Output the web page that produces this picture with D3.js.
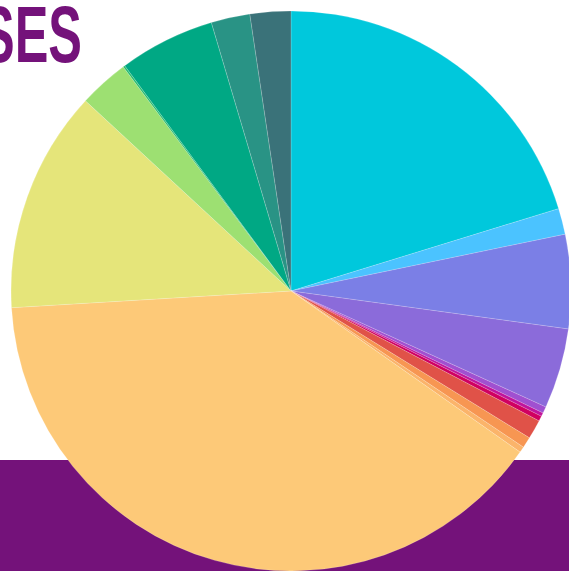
<!DOCTYPE html>
<html>
<head>
<meta charset="utf-8">
<script src="https://cdn.jsdelivr.net/npm/d3@7"></script>
<style>
  html, body { margin: 0; padding: 0; background: #fff; overflow: hidden; }
  svg { display: block; }
</style>
</head>
<body>
<div id="chart"></div>
<script>
// slices, clockwise from 12 o'clock (percent of total)
const categories = [
  "A", "B", "C", "D", "E", "F", "G", "H", "I",
  "J", "K", "L", "M", "N", "O", "P", "Q"
];
const values = [
  20.25, 1.5, 5.42, 4.63, 0.38, 0.21, 0.29, 1.11, 0.63,
  0.34, 39.3, 12.83, 2.89, 0.11, 5.53, 2.24, 2.35
];
const colors = [
  "#00c8dc", "#4bc3ff", "#7b7fe6", "#8b6bda", "#a050d0", "#c0149c",
  "#d00060", "#e05248", "#f79652", "#fbb46a", "#fdc978", "#e5e57a",
  "#9de072", "#28be6e", "#00a884", "#299385", "#3a7279"
];
const titleText = "SES";

const W = 569, H = 571;
const cx = 291, cy = 291, r = 280;

const svg = d3
  .select("#chart")
  .append("svg")
  .attr("width", W)
  .attr("height", H);

// purple band behind the pie
svg
  .append("rect")
  .attr("x", 0)
  .attr("y", 460)
  .attr("width", W)
  .attr("height", H - 460)
  .attr("fill", "#74127a");

// title (cropped at left edge, as in the reference)
svg
  .append("text")
  .attr("x", -19)
  .attr("y", 62)
  .attr("textLength", 101)
  .attr("lengthAdjust", "spacingAndGlyphs")
  .attr("font-family", "'Liberation Sans', Arial, sans-serif")
  .attr("font-weight", "bold")
  .attr("font-size", 80)
  .attr("fill", "#74127a")
  .text(titleText);

const data = categories.map((c, i) => ({ name: c, value: values[i] }));

const pie = d3
  .pie()
  .sort(null)
  .value((d) => d.value);

const arc = d3.arc().innerRadius(0).outerRadius(r);

const color = d3.scaleOrdinal().domain(categories).range(colors);

svg
  .append("g")
  .attr("transform", `translate(${cx},${cy})`)
  .selectAll("path")
  .data(pie(data))
  .join("path")
  .attr("d", arc)
  .attr("fill", (d) => color(d.data.name))
  .attr("stroke", "rgba(255,255,255,0.35)")
  .attr("stroke-width", 0.5);
</script>
</body>
</html>
